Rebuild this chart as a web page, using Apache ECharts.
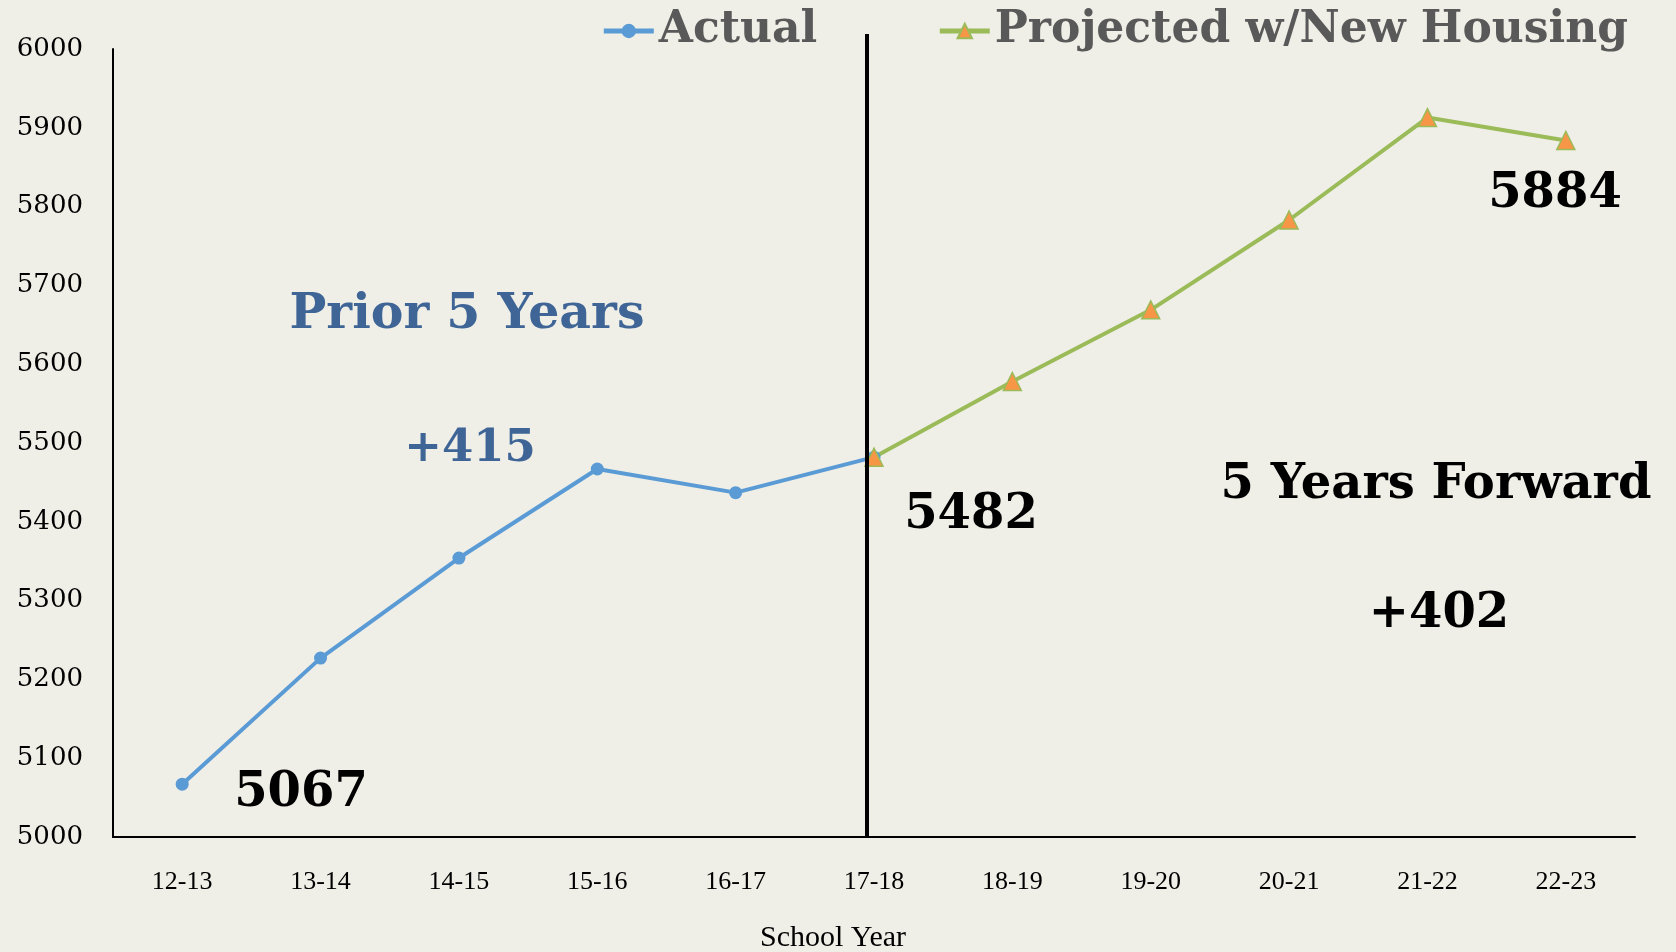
<!DOCTYPE html>
<html><head><meta charset="utf-8">
<script src="https://cdn.jsdelivr.net/npm/echarts@6/dist/echarts.min.js"></script>
<style>html,body{margin:0;padding:0;background:#efefe7}#c{width:1676px;height:952px}</style>
</head><body><div id="c"></div>
<script>
const categories = ['12-13','13-14','14-15','15-16','16-17','17-18','18-19','19-20','20-21','21-22','22-23'];
const actual = [5067, 5227, 5354, 5467, 5437, 5482, null, null, null, null, null];
const projected = [null, null, null, null, null, 5482, 5578, 5669, 5783, 5913, 5884];
const yTicks = {min: 5000, max: 6000, interval: 100};

const serif = '"Liberation Serif","DejaVu Serif",serif';
const wide = '"DejaVu Serif","Liberation Serif",serif';
const chart = echarts.init(document.getElementById('c'));
const option = {
  backgroundColor: '#efefe7',
  animation: false,
  grid: {left: 113, right: 41, top: 49, bottom: 115, outerBoundsMode: 'none', containLabel: false},
  legend: {
    top: 4, right: 43, itemGap: 120, itemWidth: 50, itemHeight: 18,
    textStyle: {fontFamily: wide, fontWeight: 'bold', fontSize: 44, color: '#595959'},
    data: [
      {name: 'Actual', lineStyle: {width: 5}},
      {name: 'Projected w/New Housing', lineStyle: {width: 5}}
    ]
  },
  xAxis: {
    type: 'category', data: categories, boundaryGap: true,
    axisLine: {lineStyle: {color: '#000', width: 2}},
    axisTick: {show: false},
    axisLabel: {fontFamily: serif, fontSize: 26, color: '#000', margin: 32},
    name: 'School Year', nameLocation: 'middle', nameGap: 86,
    nameTextStyle: {fontFamily: serif, fontSize: 30, color: '#000', padding: [0, 82, 0, 0]}
  },
  yAxis: {
    type: 'value', min: yTicks.min, max: yTicks.max, interval: yTicks.interval,
    axisLine: {show: true, lineStyle: {color: '#000', width: 2}},
    axisTick: {show: false},
    splitLine: {show: false},
    axisLabel: {fontFamily: wide, fontSize: 26, color: '#000', margin: 30, formatter: v => String(v)}
  },
  series: [
    {name: 'Actual', type: 'line', data: actual,
     symbol: 'circle', symbolSize: 13,
     lineStyle: {color: '#5b9bd5', width: 4},
     itemStyle: {color: '#5b9bd5'}},
    {name: 'Projected w/New Housing', type: 'line', data: projected,
     symbol: 'triangle', symbolSize: 18,
     lineStyle: {color: '#9bbb59', width: 4},
     itemStyle: {color: '#f79646', borderColor: '#9bbb59', borderWidth: 1.5}}
  ]
};
chart.setOption(option);

const xl = chart.convertToPixel({xAxisIndex: 0}, '17-18') - 7;
const bottomY = chart.convertToPixel({yAxisIndex: 0}, yTicks.min);
function txt(x, y, s, size, color) {
  return {type: 'text', x: x, y: y, style: {text: s, fontFamily: wide, fontWeight: 'bold', fontSize: size, fill: color, align: 'center', verticalAlign: 'middle'}, z: 10};
}
chart.setOption({
  graphic: [
    {type: 'line', shape: {x1: xl, y1: 34, x2: xl, y2: bottomY}, style: {stroke: '#000', lineWidth: 4}, z: 5},
    txt(467, 315, 'Prior 5 Years', 49, '#3f6597'),
    txt(470, 449, '+415', 45, '#3f6597'),
    txt(301, 794, '5067', 48, '#000'),
    txt(971, 516, '5482', 48, '#000'),
    txt(1555, 195, '5884', 48, '#000'),
    txt(1436, 486, '5 Years Forward', 48, '#000'),
    txt(1439, 615, '+402', 48, '#000')
  ]
});
</script></body></html>
